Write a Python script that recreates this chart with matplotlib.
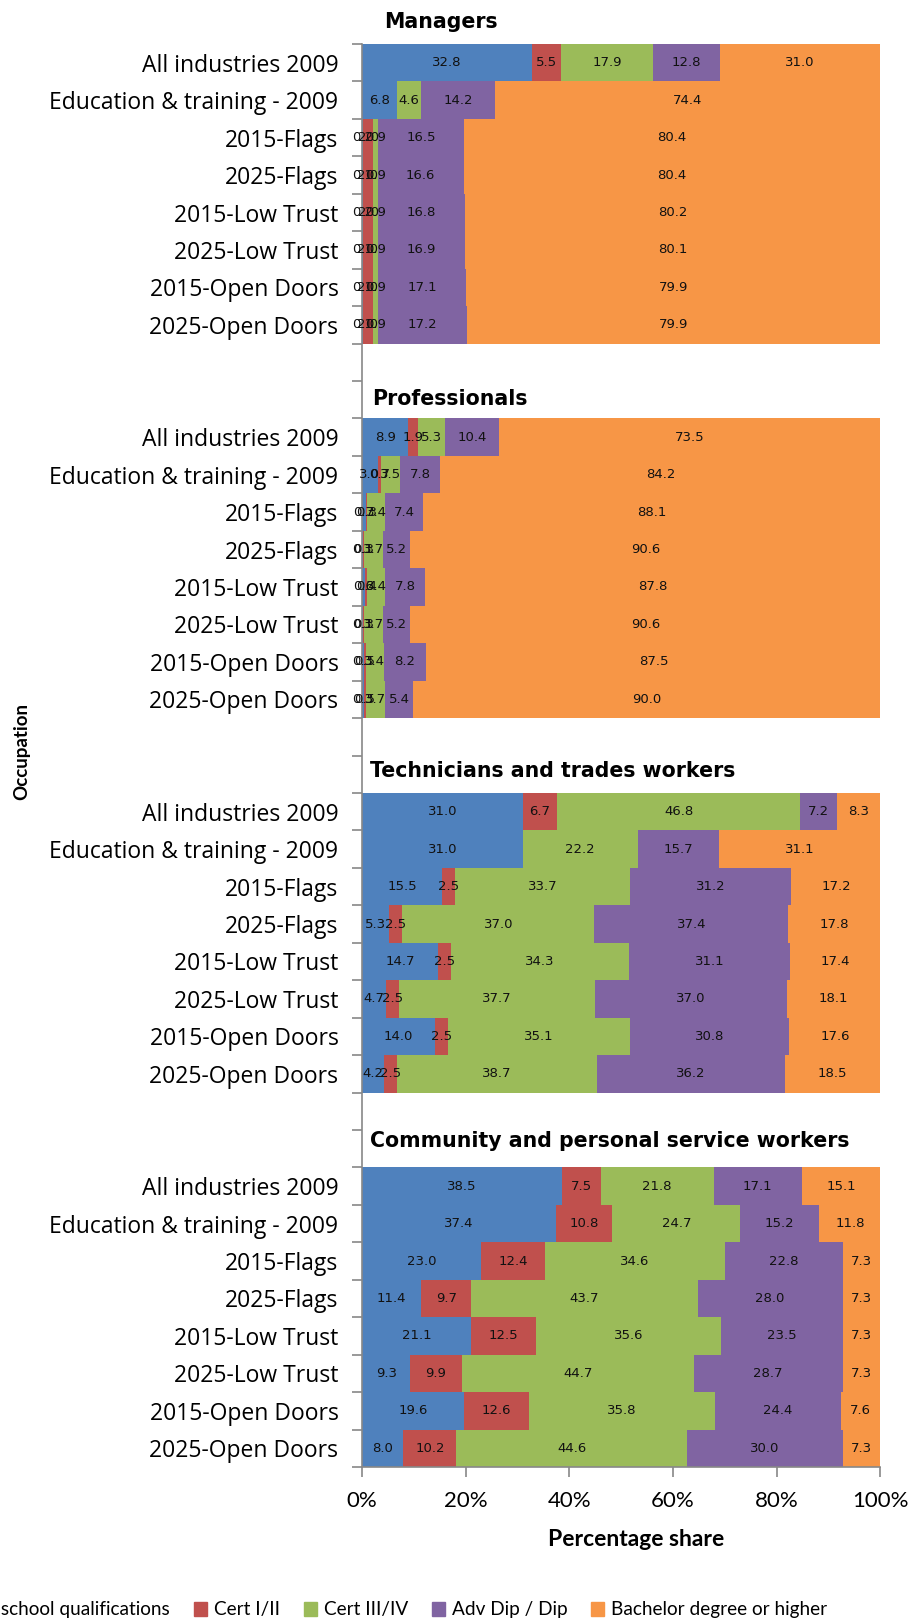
import matplotlib
matplotlib.use('Agg')
import matplotlib.pyplot as plt
from matplotlib.patches import Patch
import numpy as np

# stacked qualification shares by occupation group and scenario
groups = ['Managers', 'Professionals', 'Technicians and trades workers',
          'Community and personal service workers']
rows = ['All industries 2009', 'Education & training - 2009', '2015-Flags', '2025-Flags',
        '2015-Low Trust', '2025-Low Trust', '2015-Open Doors', '2025-Open Doors']
series = ['No non-school qualifications', 'Cert I/II', 'Cert III/IV', 'Adv Dip / Dip',
          'Bachelor degree or higher']
colors = ['#4F81BD', '#C0504D', '#9BBB59', '#8064A2', '#F79646']

managers = [
    [32.8, 5.5, 17.9, 12.8, 31.0],
    [6.8, 0.0, 4.6, 14.2, 74.4],
    [0.2, 2.0, 0.9, 16.5, 80.4],
    [0.1, 2.0, 0.9, 16.6, 80.4],
    [0.2, 2.0, 0.9, 16.8, 80.2],
    [0.1, 2.0, 0.9, 16.9, 80.1],
    [0.1, 2.0, 0.9, 17.1, 79.9],
    [0.1, 2.0, 0.9, 17.2, 79.9],
]
professionals = [
    [8.9, 1.9, 5.3, 10.4, 73.5],
    [3.0, 0.7, 3.5, 7.8, 84.2],
    [0.7, 0.3, 3.4, 7.4, 88.1],
    [0.1, 0.3, 3.7, 5.2, 90.6],
    [0.6, 0.4, 3.4, 7.8, 87.8],
    [0.1, 0.3, 3.7, 5.2, 90.6],
    [0.3, 0.5, 3.4, 8.2, 87.5],
    [0.3, 0.5, 3.7, 5.4, 90.0],
]
technicians = [
    [31.0, 6.7, 46.8, 7.2, 8.3],
    [31.0, 0.0, 22.2, 15.7, 31.1],
    [15.5, 2.5, 33.7, 31.2, 17.2],
    [5.3, 2.5, 37.0, 37.4, 17.8],
    [14.7, 2.5, 34.3, 31.1, 17.4],
    [4.7, 2.5, 37.7, 37.0, 18.1],
    [14.0, 2.5, 35.1, 30.8, 17.6],
    [4.2, 2.5, 38.7, 36.2, 18.5],
]
community = [
    [38.5, 7.5, 21.8, 17.1, 15.1],
    [37.4, 10.8, 24.7, 15.2, 11.8],
    [23.0, 12.4, 34.6, 22.8, 7.3],
    [11.4, 9.7, 43.7, 28.0, 7.3],
    [21.1, 12.5, 35.6, 23.5, 7.3],
    [9.3, 9.9, 44.7, 28.7, 7.3],
    [19.6, 12.6, 35.8, 24.4, 7.6],
    [8.0, 10.2, 44.6, 30.0, 7.3],
]
group_data = [managers, professionals, technicians, community]

fig = plt.figure(figsize=(9.12, 16.2), dpi=100)
ax = fig.add_axes([362 / 912, 1 - 1467 / 1620, 518.5 / 912, 1423 / 1620])

ypos, ylabels = [], []
for g, data in enumerate(group_data):
    start = g * 10
    vals = np.array(data)
    shares = vals / vals.sum(axis=1, keepdims=True) * 100
    y = np.arange(start, start + len(rows))
    left = np.zeros(len(rows))
    for s in range(len(series)):
        ax.barh(y, shares[:, s], left=left, height=1.0, color=colors[s], linewidth=0)
        for i in range(len(rows)):
            if vals[i, s] > 0:
                ax.text(left[i] + shares[i, s] / 2, y[i], '%.1f' % vals[i, s],
                        ha='center', va='center', fontsize=9.5, color='#111111',
                        family='DejaVu Sans')
        left += shares[:, s]
    ypos.extend(y)
    ylabels.extend(rows)

ax.set_xlim(0, 100)
ax.set_ylim(37.5, -0.5)
ax.set_yticks(ypos)
ax.set_yticklabels(ylabels, family='Open Sans', fontsize=16.5)
ax.set_yticks(np.arange(-0.5, 38, 1), minor=True)
ax.tick_params(axis='y', which='major', length=0, pad=17)
ax.tick_params(axis='y', which='minor', length=7, color='#888888', width=1.2)
ax.set_xticks([0, 20, 40, 60, 80, 100])
ax.set_xticklabels(['0%', '20%', '40%', '60%', '80%', '100%'], family='Lato', fontsize=16)
ax.tick_params(axis='x', length=7, color='#888888', width=1.2, pad=10)
for side in ['top', 'right']:
    ax.spines[side].set_visible(False)
for side in ['left', 'bottom']:
    ax.spines[side].set_color('#888888')
    ax.spines[side].set_linewidth(1.2)

# group titles sit in the blank row above each block
row_h = 1423 / 38
title_x = [384, 372, 370, 370]
title_gap = [22, 19, 22, 26]
for g, name in enumerate(groups):
    top = 44 + g * 10 * row_h
    fig.text(title_x[g] / 912, 1 - (top - title_gap[g]) / 1620, name,
             fontsize=14.8, fontweight='bold', family='DejaVu Sans', va='center', ha='left')

fig.text(636 / 912, 1 - 1539 / 1620, 'Percentage share', fontsize=16.5, fontweight='bold',
         family='Lato', ha='center', va='center')
fig.text(22 / 912, 1 - 751 / 1620, 'Occupation', fontsize=13.5, fontweight='bold',
         family='Lato', ha='center', va='center', rotation=90)

handles = [Patch(color=c, label=s) for c, s in zip(colors, series)]
leg_y = 1 - 1610 / 1620
leg = fig.legend(handles=handles, loc='center left', bbox_to_anchor=(0, leg_y),
                 ncol=5, frameon=False, handlelength=0.7, handleheight=0.7,
                 handletextpad=0.35, columnspacing=1.25, prop={'family': 'Lato', 'size': 13.7})

# shift the legend so the Cert I/II key lands where it does in the original (first entry runs off the left edge)
fig.canvas.draw()
key_left = leg.legend_handles[1].get_window_extent().x0
leg.set_bbox_to_anchor(((0 - (key_left - 194)) / 912, leg_y), transform=fig.transFigure)

fig.savefig('out.png', dpi=100)
